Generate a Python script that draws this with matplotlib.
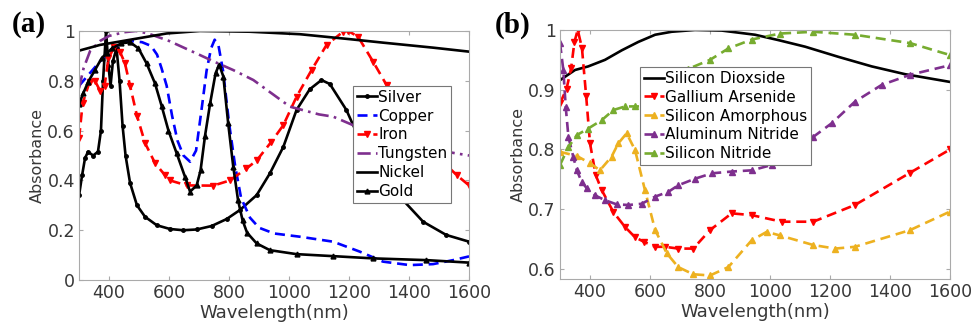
import matplotlib
matplotlib.use("Agg")
import matplotlib.pyplot as plt

# ---- panel (a): metals ----
silver_x = [300, 310, 320, 330, 347, 363, 373, 380, 390, 398, 405, 413, 425, 435, 445, 455, 470, 493, 520,
            559, 603, 647, 692, 742, 792, 836, 892, 936, 981, 1025, 1069, 1108, 1136, 1191, 1236, 1291,
            1369, 1447, 1524, 1600]
silver_y = [0.34, 0.42, 0.49, 0.515, 0.50, 0.515, 0.60, 0.80, 1.0, 0.86, 0.78, 0.88, 0.93, 0.80, 0.62, 0.50,
            0.39, 0.30, 0.254, 0.22, 0.205, 0.20, 0.203, 0.217, 0.245, 0.281, 0.341, 0.428, 0.535, 0.683,
            0.766, 0.803, 0.787, 0.683, 0.562, 0.442, 0.335, 0.234, 0.181, 0.154]

copper_x = [300, 350, 400, 440, 470, 510, 540, 560, 575, 592, 610, 628, 648, 670, 690, 710, 725, 740, 752,
            765, 780, 800, 820, 840, 870, 900, 950, 1036, 1147, 1236, 1313, 1402, 1480, 1547, 1600]
copper_y = [0.78, 0.85, 0.92, 0.95, 0.96, 0.955, 0.94, 0.905, 0.85, 0.78, 0.66, 0.56, 0.50, 0.475, 0.52,
            0.70, 0.84, 0.93, 0.965, 0.94, 0.84, 0.63, 0.46, 0.33, 0.25, 0.21, 0.187, 0.174, 0.154, 0.114,
            0.074, 0.06, 0.064, 0.08, 0.095]

iron_x = [300, 312, 335, 353, 370, 385, 398, 417, 437, 453, 470, 493, 520, 553, 587, 603, 659, 747, 803,
          858, 892, 941, 981, 1025, 1075, 1125, 1180, 1197, 1230, 1280, 1325, 1358, 1450, 1500, 1560, 1600]
iron_y = [0.57, 0.71, 0.795, 0.80, 0.76, 0.78, 0.89, 0.935, 0.915, 0.87, 0.78, 0.66, 0.55, 0.47, 0.42, 0.40,
          0.38, 0.379, 0.40, 0.448, 0.48, 0.555, 0.622, 0.736, 0.843, 0.944, 0.997, 1.0, 0.977, 0.877,
          0.783, 0.70, 0.55, 0.49, 0.42, 0.38]

tungsten_x = [300, 315, 337, 370, 400, 450, 490, 530, 600, 700, 750, 814, 881, 1003, 1100, 1147, 1213,
              1300, 1400, 1500, 1550, 1600]
tungsten_y = [0.77, 0.85, 0.92, 0.96, 0.98, 0.995, 1.0, 0.99, 0.96, 0.905, 0.877, 0.843, 0.803, 0.696,
              0.665, 0.656, 0.622, 0.58, 0.55, 0.52, 0.51, 0.50]

nickel_x = [300, 370, 481, 592, 703, 869, 1036, 1203, 1314, 1480, 1600]
nickel_y = [0.921, 0.944, 0.967, 0.99, 1.0, 0.997, 0.987, 0.967, 0.953, 0.933, 0.917]

gold_x = [300, 314, 331, 353, 375, 392, 410, 440, 470, 498, 525, 553, 575, 598, 625, 653, 670, 692, 705,
          720, 737, 755, 767, 781, 797, 814, 830, 845, 860, 892, 936, 1025, 1147, 1280, 1458, 1600]
gold_y = [0.707, 0.75, 0.797, 0.843, 0.89, 0.91, 0.93, 0.95, 0.955, 0.93, 0.87, 0.79, 0.70, 0.60, 0.51,
          0.415, 0.355, 0.38, 0.44, 0.58, 0.71, 0.83, 0.865, 0.817, 0.63, 0.455, 0.32, 0.24, 0.19, 0.147,
          0.12, 0.104, 0.096, 0.087, 0.08, 0.07]

# ---- panel (b): dielectrics / semiconductors ----
sio2_x = [300, 350, 394, 450, 506, 561, 617, 672, 750, 839, 950, 1028, 1117, 1228, 1339, 1450, 1600]
sio2_y = [0.916, 0.933, 0.939, 0.95, 0.966, 0.98, 0.992, 0.997, 1.0, 0.999, 0.992, 0.983, 0.972, 0.955,
          0.939, 0.926, 0.913]

gaas_x = [300, 322, 337, 348, 359, 373, 387, 400, 419, 439, 478, 517, 550, 581, 617, 650, 694, 744, 800,
          872, 939, 1039, 1144, 1283, 1467, 1600]
gaas_y = [0.877, 0.902, 0.936, 0.98, 1.0, 0.97, 0.89, 0.81, 0.757, 0.732, 0.695, 0.67, 0.653, 0.645,
          0.637, 0.637, 0.634, 0.634, 0.665, 0.693, 0.69, 0.679, 0.679, 0.707, 0.761, 0.80]

asi_x = [300, 356, 400, 433, 472, 494, 522, 550, 583, 617, 656, 694, 744, 800, 861, 939, 989, 1033, 1144,
         1217, 1283, 1467, 1600]
asi_y = [0.796, 0.789, 0.777, 0.765, 0.788, 0.81, 0.827, 0.799, 0.732, 0.665, 0.626, 0.603, 0.591, 0.589,
         0.603, 0.648, 0.662, 0.656, 0.64, 0.634, 0.637, 0.665, 0.696]

aln_x = [300, 311, 319, 328, 344, 356, 372, 389, 417, 450, 489, 528, 572, 617, 661, 694, 750, 806, 872,
         939, 1006, 1061, 1144, 1206, 1283, 1372, 1467, 1600]
aln_y = [0.978, 0.933, 0.871, 0.821, 0.788, 0.765, 0.746, 0.735, 0.723, 0.715, 0.708, 0.707, 0.709,
         0.721, 0.729, 0.74, 0.751, 0.76, 0.763, 0.765, 0.774, 0.788, 0.821, 0.844, 0.88, 0.908, 0.925,
         0.941]

sin_x = [300, 328, 356, 394, 439, 478, 517, 550, 583, 620, 660, 700, 728, 800, 861, 939, 1033, 1144,
         1283, 1467, 1600]
sin_y = [0.774, 0.804, 0.824, 0.835, 0.849, 0.866, 0.872, 0.872, 0.872, 0.88, 0.90, 0.92, 0.935, 0.95,
         0.969, 0.984, 0.994, 0.997, 0.992, 0.978, 0.958]

xticks = [400, 600, 800, 1000, 1200, 1400, 1600]
yticks_a = [0, 0.2, 0.4, 0.6, 0.8, 1]
ylabels_a = ["0", "0.2", "0.4", "0.6", "0.8", "1"]
yticks_b = [0.6, 0.7, 0.8, 0.9, 1]
ylabels_b = ["0.6", "0.7", "0.8", "0.9", "1"]

purple = "#7E2F8E"
orange = "#EDB120"
green = "#77AC30"
spine_col = "#aaaaaa"
text_col = "#383838"

fig = plt.figure(figsize=(9.76, 3.33), dpi=100)
ax1 = fig.add_axes([0.081, 0.159, 0.3996, 0.748])
ax2 = fig.add_axes([0.5738, 0.162, 0.3996, 0.748])

lw = 1.9
dash = (0, (3.8, 2.2))
ax1.plot(silver_x, silver_y, color="black", lw=lw, marker="o", ms=2.5, label="Silver")
ax1.plot(copper_x, copper_y, color="#0000FF", lw=lw, ls=dash, label="Copper")
ax1.plot(iron_x, iron_y, color="red", lw=lw, ls=dash, marker="v", ms=4.5, label="Iron")
ax1.plot(tungsten_x, tungsten_y, color=purple, lw=lw, ls=(0, (5, 2, 1, 2)), label="Tungsten")
ax1.plot(nickel_x, nickel_y, color="black", lw=lw, label="Nickel")
ax1.plot(gold_x, gold_y, color="black", lw=lw, marker="^", ms=3.5, label="Gold")

ax2.plot(sio2_x, sio2_y, color="black", lw=lw, label="Silicon Dioxside")
ax2.plot(gaas_x, gaas_y, color="red", lw=lw, ls=dash, marker="v", ms=4.5, label="Gallium Arsenide")
ax2.plot(asi_x, asi_y, color=orange, lw=lw, ls=dash, marker="^", ms=4.5, label="Silicon Amorphous")
ax2.plot(aln_x, aln_y, color=purple, lw=lw, ls=dash, marker="^", ms=4.5, label="Aluminum Nitride")
ax2.plot(sin_x, sin_y, color=green, lw=lw, ls=dash, marker="^", ms=4.5, label="Silicon Nitride")

for ax, yt, yl, ylim in [(ax1, yticks_a, ylabels_a, (0, 1)), (ax2, yticks_b, ylabels_b, (0.583, 1))]:
    ax.set_xlim(300, 1600)
    ax.set_ylim(*ylim)
    ax.set_xticks(xticks)
    ax.set_yticks(yt)
    ax.set_yticklabels(yl)
    ax.tick_params(direction="in", top=True, right=True, length=3, width=0.8,
                   color=spine_col, labelcolor=text_col, labelsize=12.5, pad=3)
    for s in ax.spines.values():
        s.set_color(spine_col)
        s.set_linewidth(0.8)
    ax.set_xlabel("Wavelength(nm)", fontsize=13, color=text_col, labelpad=1)
    ax.set_ylabel("Absorbance", fontsize=11.5, color=text_col, labelpad=2)

leg1 = ax1.legend(loc="upper left", bbox_to_anchor=(0.703, 0.779), borderaxespad=0, fontsize=11,
                  handlelength=1.3, handletextpad=0.1, labelspacing=0.25, borderpad=0.25,
                  numpoints=1, fancybox=False, framealpha=1)
leg1.get_frame().set_edgecolor("#777777")
leg1.get_frame().set_linewidth(0.8)

leg2 = ax2.legend(loc="upper left", bbox_to_anchor=(0.205, 0.851), borderaxespad=0, fontsize=11,
                  handlelength=1.3, handletextpad=0.1, labelspacing=0.25, borderpad=0.25,
                  numpoints=1, fancybox=False, framealpha=1)
leg2.get_frame().set_edgecolor("#777777")
leg2.get_frame().set_linewidth(0.8)

fig.text(0.012, 0.925, "(a)", fontsize=21, fontweight="bold", family="Liberation Serif", va="center")
fig.text(0.507, 0.925, "(b)", fontsize=21, fontweight="bold", family="Liberation Serif", va="center")

fig.savefig("out.png", dpi=100)
